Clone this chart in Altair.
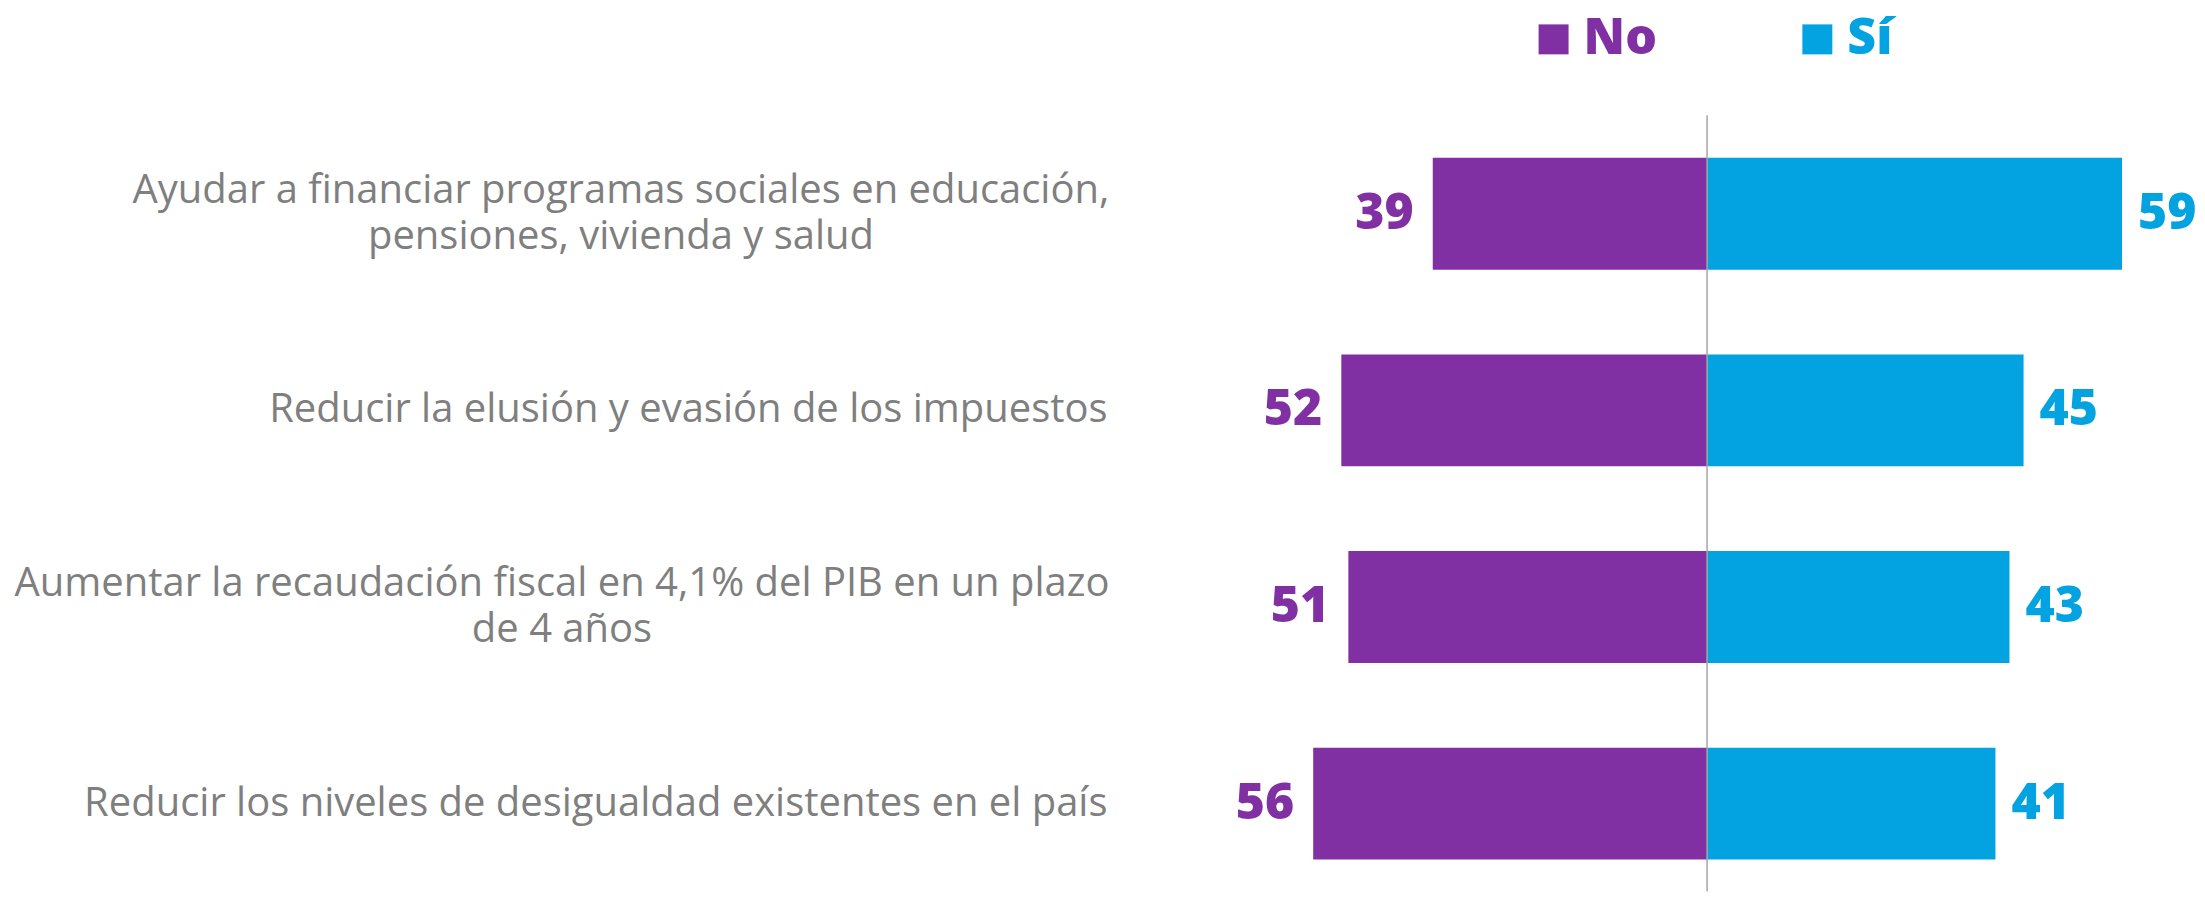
import altair as alt
import pandas as pd

categories = [
    "Ayudar a financiar programas sociales en educación,\npensiones, vivienda y salud",
    "Reducir la elusión y evasión de los impuestos",
    "Aumentar la recaudación fiscal en 4,1% del PIB en un plazo\nde 4 años",
    "Reducir los niveles de desigualdad existentes en el país",
]
no_values = [39, 52, 51, 56]
si_values = [59, 45, 43, 41]
groups = ["No", "Sí"]
colors = ["#8130A3", "#02A3E0"]

rows = []
for c, n, s in zip(categories, no_values, si_values):
    rows.append({"cat": c, "grupo": "No", "pos": -n, "val": n})
    rows.append({"cat": c, "grupo": "Sí", "pos": s, "val": s})
df = pd.DataFrame(rows)

FONT = "Open Sans"
PLOT_W = 1030
PLOT_H = 884

x_scale = alt.Scale(domain=[-79.35, 66.96], nice=False, zero=False)
y_scale = alt.Scale(paddingInner=0.426, paddingOuter=0.4588, align=0.825)
color_scale = alt.Scale(domain=groups, range=colors)

# multi-line labels are centred line by line, their block ending where the others end
pad_expr = (
    "indexof(datum.value, 'Ayudar') == 0 ? 529 : "
    "indexof(datum.value, 'Aumentar') == 0 ? 588 : 42"
)

y_enc = alt.Y(
    "cat:N",
    sort=categories,
    scale=y_scale,
    title=None,
    axis=alt.Axis(
        domain=False,
        ticks=False,
        grid=False,
        labelFont=FONT,
        labelFontSize=40,
        labelColor="#7F7F7F",
        labelPadding={"expr": pad_expr},
        labelLimit=1300,
        labelLineHeight=46,
        labelAlign={"condition": {"test": "indexof(datum.value, '\\n') >= 0", "value": "center"}, "value": "right"},
        labelBaseline="middle",
        minExtent=1142,
        maxExtent=1142,
        labelOffset={"condition": {"test": "indexof(datum.value, '\\n') >= 0", "value": -23}, "value": 0},
        labelExpr="split(datum.label, '\\n')",
    ),
)

base = alt.Chart(df)

bars = base.mark_bar(size=112).encode(
    x=alt.X("pos:Q", scale=x_scale, axis=None),
    y=y_enc,
    color=alt.Color(
        "grupo:N",
        scale=color_scale,
        legend=alt.Legend(
            title=None,
            orient="none",
            legendX=380,
            legendY=6,
            direction="horizontal",
            columns=2,
            symbolType="square",
            symbolSize=900,
            symbolStrokeWidth=0,
            labelFont=FONT,
            labelFontSize=50,
            labelFontWeight=800,
            labelOffset=5,
            columnPadding=135,
            labelColor={"expr": "datum.value == 'No' ? '#8130A3' : '#02A3E0'"},
        ),
    ),
)

rule = alt.Chart(pd.DataFrame({"x0": [0]})).mark_rule(color="#A6A6A6", strokeWidth=1.5).encode(
    x=alt.X("x0:Q", scale=x_scale),
    y=alt.value(107),
    y2=alt.value(PLOT_H),
)

text_no = base.transform_filter(alt.datum.grupo == "No").mark_text(
    align="right", baseline="middle", dx=-19, font=FONT, fontSize=50, fontWeight=800
).encode(
    x=alt.X("pos:Q", scale=x_scale),
    y=alt.Y("cat:N", sort=categories, scale=y_scale),
    text=alt.Text("val:Q"),
    color=alt.Color("grupo:N", scale=color_scale, legend=None),
)

text_si = base.transform_filter(alt.datum.grupo == "Sí").mark_text(
    align="left", baseline="middle", dx=16, font=FONT, fontSize=50, fontWeight=800
).encode(
    x=alt.X("pos:Q", scale=x_scale),
    y=alt.Y("cat:N", sort=categories, scale=y_scale),
    text=alt.Text("val:Q"),
    color=alt.Color("grupo:N", scale=color_scale, legend=None),
)

chart = (
    alt.layer(bars, rule, text_no, text_si)
    .properties(width=PLOT_W, height=PLOT_H, padding=0, background="white")
    .configure_view(stroke="transparent", strokeWidth=0)
)

chart.save("out.html", embed_options={"renderer": "svg", "actions": False})
